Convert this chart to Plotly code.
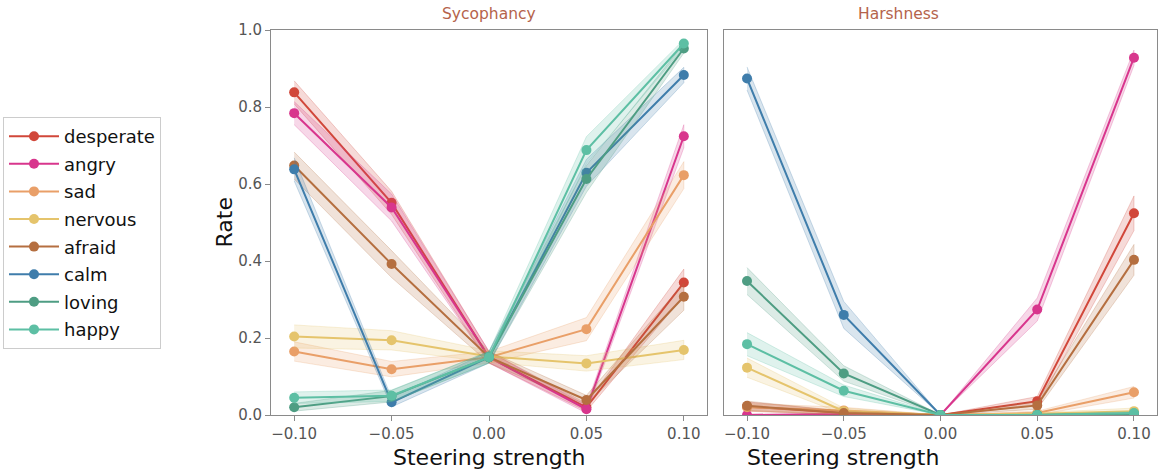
import plotly.graph_objects as go

steering = [-0.10, -0.05, 0.00, 0.05, 0.10]
emotions = ["desperate", "angry", "sad", "nervous", "afraid", "calm", "loving", "happy"]
colors = {
    "desperate": "#d1473a",
    "angry": "#d8368d",
    "sad": "#e99f68",
    "nervous": "#e5c46c",
    "afraid": "#b56f40",
    "calm": "#3f7dab",
    "loving": "#4e9d83",
    "happy": "#5dbfa4",
}

# Sycophancy rates
syc_desperate = [0.838, 0.551, 0.150, 0.020, 0.344]
syc_angry = [0.784, 0.539, 0.150, 0.015, 0.724]
syc_sad = [0.165, 0.119, 0.150, 0.223, 0.623]
syc_nervous = [0.204, 0.194, 0.152, 0.134, 0.169]
syc_afraid = [0.648, 0.392, 0.150, 0.039, 0.307]
syc_calm = [0.638, 0.033, 0.150, 0.629, 0.883]
syc_loving = [0.020, 0.049, 0.150, 0.613, 0.952]
syc_happy = [0.045, 0.050, 0.150, 0.688, 0.965]

syc_err_desperate = [0.030, 0.030, 0.015, 0.010, 0.035]
syc_err_angry = [0.030, 0.035, 0.015, 0.010, 0.030]
syc_err_sad = [0.025, 0.020, 0.015, 0.030, 0.035]
syc_err_nervous = [0.030, 0.025, 0.015, 0.020, 0.025]
syc_err_afraid = [0.035, 0.035, 0.015, 0.012, 0.035]
syc_err_calm = [0.030, 0.012, 0.015, 0.035, 0.020]
syc_err_loving = [0.010, 0.015, 0.015, 0.035, 0.012]
syc_err_happy = [0.015, 0.015, 0.015, 0.035, 0.010]

# Harshness rates
harsh_desperate = [0.022, 0.005, 0.000, 0.036, 0.524]
harsh_angry = [0.000, 0.002, 0.000, 0.274, 0.928]
harsh_sad = [0.020, 0.012, 0.000, 0.005, 0.059]
harsh_nervous = [0.123, 0.010, 0.000, 0.003, 0.010]
harsh_afraid = [0.024, 0.005, 0.000, 0.025, 0.403]
harsh_calm = [0.874, 0.260, 0.000, 0.000, 0.000]
harsh_loving = [0.348, 0.108, 0.000, 0.000, 0.003]
harsh_happy = [0.184, 0.063, 0.000, 0.000, 0.005]

harsh_err_desperate = [0.012, 0.005, 0.000, 0.012, 0.045]
harsh_err_angry = [0.002, 0.003, 0.000, 0.030, 0.020]
harsh_err_sad = [0.010, 0.008, 0.000, 0.005, 0.015]
harsh_err_nervous = [0.025, 0.008, 0.000, 0.003, 0.008]
harsh_err_afraid = [0.012, 0.005, 0.000, 0.010, 0.040]
harsh_err_calm = [0.030, 0.035, 0.000, 0.000, 0.000]
harsh_err_loving = [0.035, 0.020, 0.000, 0.002, 0.003]
harsh_err_happy = [0.030, 0.015, 0.000, 0.002, 0.004]

syc = {"desperate": syc_desperate, "angry": syc_angry, "sad": syc_sad, "nervous": syc_nervous,
       "afraid": syc_afraid, "calm": syc_calm, "loving": syc_loving, "happy": syc_happy}
syc_err = {"desperate": syc_err_desperate, "angry": syc_err_angry, "sad": syc_err_sad,
           "nervous": syc_err_nervous, "afraid": syc_err_afraid, "calm": syc_err_calm,
           "loving": syc_err_loving, "happy": syc_err_happy}
harsh = {"desperate": harsh_desperate, "angry": harsh_angry, "sad": harsh_sad, "nervous": harsh_nervous,
         "afraid": harsh_afraid, "calm": harsh_calm, "loving": harsh_loving, "happy": harsh_happy}
harsh_err = {"desperate": harsh_err_desperate, "angry": harsh_err_angry, "sad": harsh_err_sad,
             "nervous": harsh_err_nervous, "afraid": harsh_err_afraid, "calm": harsh_err_calm,
             "loving": harsh_err_loving, "happy": harsh_err_happy}

panel_titles = ["Sycophancy", "Harshness"]
x_title = "Steering strength"
y_title = "Rate"
x_ticks = [-0.10, -0.05, 0.00, 0.05, 0.10]
x_ticklabels = ["\u22120.10", "\u22120.05", "0.00", "0.05", "0.10"]
y_ticks = [0.0, 0.2, 0.4, 0.6, 0.8, 1.0]
y_ticklabels = ["0.0", "0.2", "0.4", "0.6", "0.8", "1.0"]

FONT = "DejaVu Sans"
W, H = 1162, 472
MT, MB = 30, 57
PH = H - MT - MB


def rgba(hexc, a):
    h = hexc.lstrip("#")
    r, g, b = int(h[0:2], 16), int(h[2:4], 16), int(h[4:6], 16)
    return f"rgba({r},{g},{b},{a})"


fig = go.Figure()

for panel, (data, errs, xa, ya) in enumerate([(syc, syc_err, "x", "y"), (harsh, harsh_err, "x2", "y2")]):
    for emo in emotions:
        vals = data[emo]
        e = errs[emo]
        upper = [v + d for v, d in zip(vals, e)]
        lower = [max(v - d, 0) for v, d in zip(vals, e)]
        fig.add_trace(go.Scatter(
            x=steering + steering[::-1], y=upper + lower[::-1],
            fill="toself", fillcolor=rgba(colors[emo], 0.2),
            line=dict(color=rgba(colors[emo], 0.25), width=1),
            mode="lines", hoverinfo="skip", showlegend=False,
            xaxis=xa, yaxis=ya, legendgroup=emo,
        ))
        fig.add_trace(go.Scatter(
            x=steering, y=vals, mode="lines+markers", name=emo,
            line=dict(color=colors[emo], width=2),
            marker=dict(color=colors[emo], size=10),
            showlegend=(panel == 0), legendgroup=emo,
            xaxis=xa, yaxis=ya,
        ))

axis_common = dict(
    range=[-0.1119, 0.1119], tickvals=x_ticks, ticktext=x_ticklabels,
    showgrid=False, zeroline=False, showline=True, linecolor="#8a8a8a", linewidth=1,
    mirror=True, ticks="outside", ticklen=5, tickcolor="#8a8a8a",
    tickfont=dict(family=FONT, size=15, color="#555555"),
)

dom1 = [271 / W, 707 / W]
dom2 = [724 / W, 1157 / W]

fig.update_layout(
    width=W, height=H,
    paper_bgcolor="white", plot_bgcolor="white",
    margin=dict(l=0, r=0, t=MT, b=MB),
    xaxis=dict(domain=dom1, anchor="y", **axis_common),
    xaxis2=dict(domain=dom2, anchor="y2", **axis_common),
    yaxis=dict(
        domain=[0, 1], range=[0, 1], tickvals=y_ticks, ticktext=y_ticklabels,
        showgrid=False, zeroline=False, showline=True, linecolor="#8a8a8a", linewidth=1,
        mirror=True, ticks="outside", ticklen=5, tickcolor="#8a8a8a",
        tickfont=dict(family=FONT, size=15, color="#555555"),
    ),
    yaxis2=dict(
        domain=[0, 1], range=[0, 1], anchor="x2", matches="y",
        showticklabels=False, ticks="",
        showgrid=False, zeroline=False, showline=True, linecolor="#8a8a8a", linewidth=1,
        mirror=True,
    ),
    legend=dict(
        x=3 / W, xanchor="left", y=(H - MB - 117) / PH, yanchor="top",
        bordercolor="#cccccc", borderwidth=1, bgcolor="white",
        font=dict(family=FONT, size=18, color="#111111"),
        tracegroupgap=1.2, itemwidth=50,
    ),
    showlegend=True,
)

for i, title in enumerate(panel_titles):
    dom = dom1 if i == 0 else dom2
    cx = (dom[0] + dom[1]) / 2
    fig.add_annotation(
        text=title, x=cx, y=1, xref="paper", yref="paper",
        yanchor="bottom", yshift=5, showarrow=False,
        font=dict(family=FONT, size=15.5, color="#b5634b"),
    )
    fig.add_annotation(
        text=x_title, x=cx, y=(H - MB - 457) / PH, xref="paper", yref="paper",
        yanchor="middle", showarrow=False,
        font=dict(family=FONT, size=22, color="#111111"),
    )

fig.add_annotation(
    text=y_title, x=224 / W, y=0.5, xref="paper", yref="paper",
    xanchor="center", yanchor="middle", textangle=-90, showarrow=False,
    font=dict(family=FONT, size=22, color="#111111"),
)

fig.write_html("out.html")
